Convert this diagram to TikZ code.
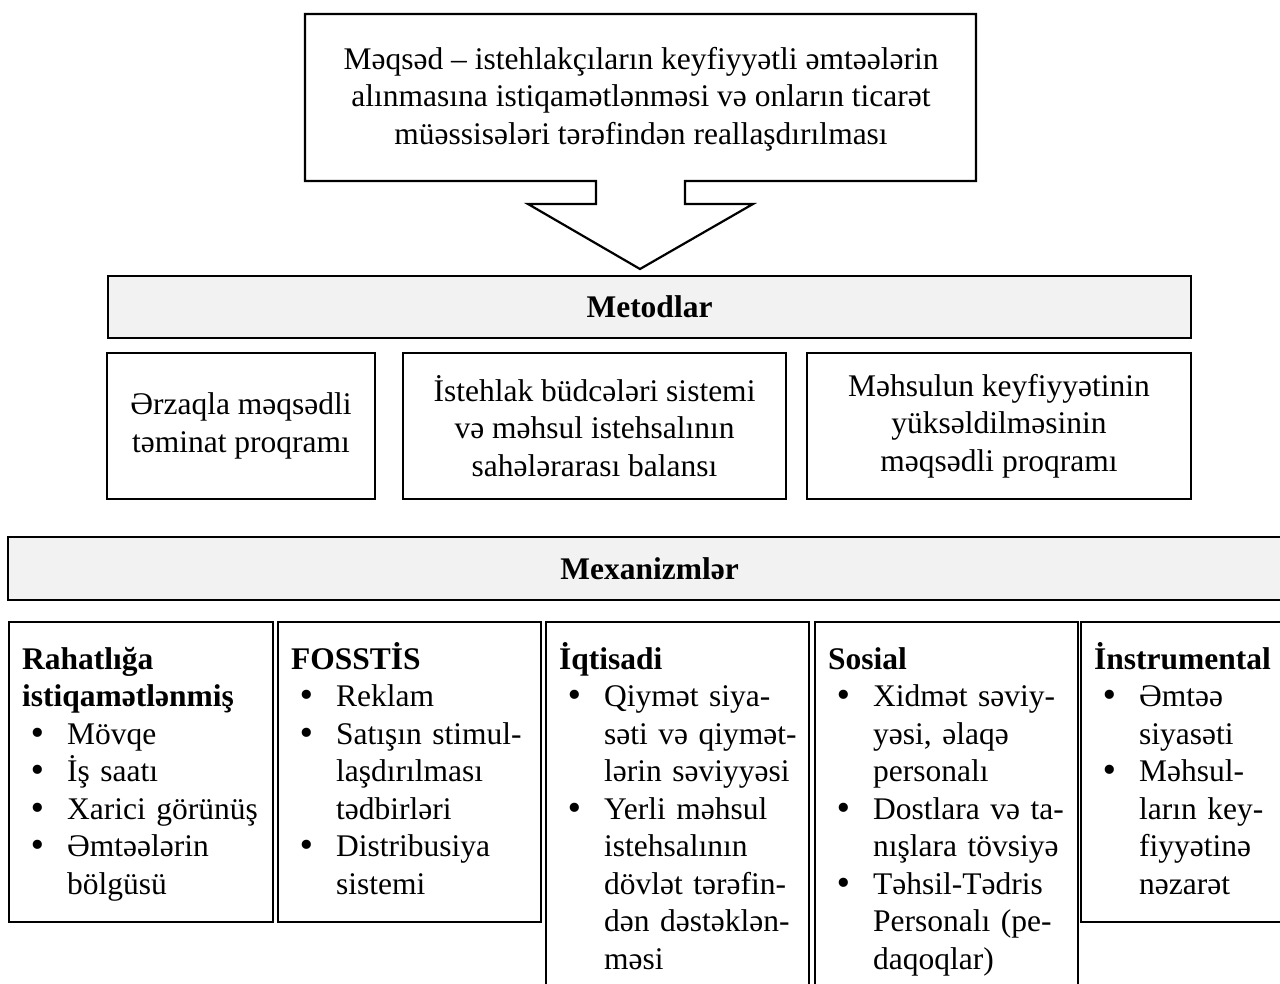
\documentclass[tikz,border=0pt]{standalone}
\usepackage{fontspec}
\setmainfont{Liberation Serif}
\newfontfamily\bulletfont{DejaVu Sans}
\usepackage{enumitem}
\usepackage{tikz}
\definecolor{barfill}{HTML}{F2F2F2}
\newcommand\diagfont{\fontsize{31.5}{37.5}\selectfont}
\newcommand\bigbullet{{\bulletfont •}}
\setlist[itemize]{label=\bigbullet, leftmargin=45pt, labelsep=20pt, labelwidth=20pt, nosep}
\tikzset{
	boxline/.style={draw, line width=2.2pt, line join=miter},
	headbar/.style={boxline, fill=barfill, inner sep=0pt, font=\diagfont\bfseries},
	methbox/.style={boxline, inner sep=0pt, align=center, minimum height=146pt, font=\diagfont},
	mechbox/.style={boxline, inner sep=0pt, anchor=north west},
	mechtext/.style={inner sep=0pt, anchor=base west, text width=300pt, align=left, font=\diagfont}
}

\begin{document}
\begin{tikzpicture}[x=1pt, y=-1pt]
\useasboundingbox (0,0) rectangle (1280,983);
\clip (0,0) rectangle (1280,983);

% goal with arrow
\draw[boxline] (305,14) -- (976,14) -- (976,181) -- (685,181) -- (685,204)
	-- (753,204) -- (640,269) -- (528,204) -- (596,204) -- (596,181)
	-- (305,181) -- cycle;
\node[align=center, inner sep=0pt, font=\diagfont] (goal) at (641,99)
	{Məqsəd – istehlakçıların keyfiyyətli əmtəələrin\\
	alınmasına istiqamətlənməsi və onların ticarət\\
	müəssisələri tərəfindən reallaşdırılması};

% methods
\node[headbar, minimum width=1083pt, minimum height=62pt] (metod) at (649.5,307) {Metodlar};
\node[methbox, minimum width=268pt] (food) at (241,426)
	{Ərzaqla məqsədli\\təminat proqramı};
\node[methbox, minimum width=383pt] (budget) at (594.5,426)
	{İstehlak büdcələri sistemi\\və məhsul istehsalının\\sahələrarası balansı};
\node[methbox, minimum width=384pt] (quality) at (999,426)
	{Məhsulun keyfiyyətinin\\yüksəldilməsinin\\məqsədli proqramı};

% mechanisms
\node[headbar, minimum width=1283pt, minimum height=63pt] (mexan) at (649.5,568.5) {Mexanizmlər};

\node[mechbox, minimum width=264pt, minimum height=300pt] (comfort) at (8,621) {};
\node[mechbox, minimum width=263pt, minimum height=300pt] (fosstis) at (277,621) {};
\node[mechbox, minimum width=263pt, minimum height=390pt] (econ) at (545,621) {};
\node[mechbox, minimum width=263pt, minimum height=390pt] (social) at (814,621) {};
\node[mechbox, minimum width=215pt, minimum height=300pt] (instr) at (1080,621) {};

\node[mechtext] (comforttxt) at (22,669) {\textbf{Rahatlığa}\\\textbf{istiqamətlənmiş}
	\begin{itemize}
	\item Mövqe
	\item İş saatı
	\item Xarici görünüş
	\item Əmtəələrin\newline bölgüsü
	\end{itemize}};
\node[mechtext] (fosstistxt) at (291,669) {\textbf{FOSSTİS}
	\begin{itemize}
	\item Reklam
	\item Satışın stimul-\newline laşdırılması\newline tədbirləri
	\item Distribusiya\newline sistemi
	\end{itemize}};
\node[mechtext] (econtxt) at (559,669) {\textbf{İqtisadi}
	\begin{itemize}
	\item Qiymət siya-\newline səti və qiymət-\newline lərin səviyyəsi
	\item Yerli məhsul\newline istehsalının\newline dövlət tərəfin-\newline dən dəstəklən-\newline məsi
	\end{itemize}};
\node[mechtext] (socialtxt) at (828,669) {\textbf{Sosial}
	\begin{itemize}
	\item Xidmət səviy-\newline yəsi, əlaqə\newline personalı
	\item Dostlara və ta-\newline nışlara tövsiyə
	\item Təhsil-Tədris\newline Personalı (pe-\newline daqoqlar)
	\end{itemize}};
\node[mechtext] (instrtxt) at (1094,669) {\textbf{İnstrumental}
	\begin{itemize}
	\item Əmtəə\newline siyasəti
	\item Məhsul-\newline ların key-\newline fiyyətinə\newline nəzarət
	\end{itemize}};
\end{tikzpicture}
\end{document}
